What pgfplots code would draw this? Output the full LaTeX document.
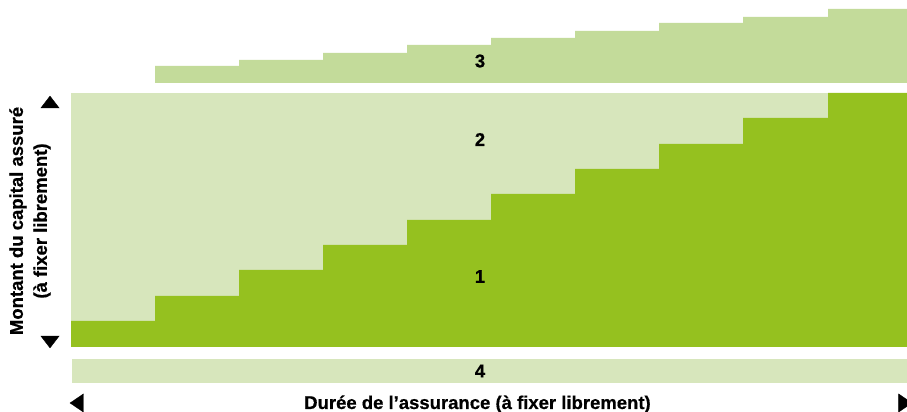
\documentclass[border=0pt]{standalone}
\usepackage{fontspec}
\setmainfont{Liberation Sans}[BoldFeatures={FakeBold=0.6}]
\usepackage{pgfplots}
\pgfplotsset{compat=1.18}
\definecolor{dark}{HTML}{95C11F}
\definecolor{light}{HTML}{D7E6BC}
\definecolor{mid}{HTML}{C3DB9A}
\tikzset{lab/.style={font=\bfseries\fontsize{18.5}{24}\selectfont}}
\begin{document}
\begin{tikzpicture}
\begin{axis}[
  at={(0,0)}, anchor=south west,
  scale only axis, width=907pt, height=412pt,
  xmin=0, xmax=907, ymin=0, ymax=412,
  hide axis, clip=false,
]
% area 2 (background)
\addplot[fill=light, draw=none] coordinates {(71,65) (71,319) (907,319) (907,65)} -- cycle;
% area 1 (stairs)
\addplot[fill=dark, draw=none] coordinates {
 (71,65) (71,91) (155,91) (155,116) (239,116) (239,142) (323,142) (323,167)
 (407,167) (407,192) (491,192) (491,218) (575,218) (575,243) (659,243) (659,268)
 (743,268) (743,294) (828,294) (828,319) (907,319) (907,65)} -- cycle;
% area 3 (top stairs)
\addplot[fill=mid, draw=none] coordinates {
 (155,329) (155,346) (239,346) (239,352) (323,352) (323,359) (407,359) (407,367)
 (491,367) (491,374) (575,374) (575,381) (659,381) (659,389) (743,389) (743,395)
 (828,395) (828,403) (907,403) (907,329)} -- cycle;
% area 4 (bottom band)
\addplot[fill=light, draw=none] coordinates {(72,29) (72,53) (907,53) (907,29)} -- cycle;
% arrows
\addplot[only marks, mark=triangle*, mark size=10.5pt, mark options={black, yscale=0.75}] coordinates {(50,308)};
\addplot[only marks, mark=triangle*, mark size=10.5pt, mark options={black, rotate=180, yscale=0.75}] coordinates {(50,72)};
\addplot[only marks, mark=triangle*, mark size=10.5pt, mark options={black, rotate=90, yscale=0.85}] coordinates {(79,9)};
\addplot[only marks, mark=triangle*, mark size=10.5pt, mark options={black, rotate=-90, yscale=0.85}] coordinates {(903,9)};
% labels
\node[lab] at (axis cs:480,351) {3};
\node[lab] at (axis cs:480,272.5) {2};
\node[lab] at (axis cs:480,135.5) {1};
\node[lab] at (axis cs:480,41) {4};
\node[lab, anchor=base] at (axis cs:477.5,3) {Durée de l’assurance (à fixer librement)};
\node[lab, rotate=90, align=center, inner sep=0pt] at (axis cs:30,191) {Montant du capital assuré\\(à fixer librement)};
\end{axis}
\pgfresetboundingbox
\path (0,0) rectangle (907pt,412pt);
\end{tikzpicture}
\end{document}
